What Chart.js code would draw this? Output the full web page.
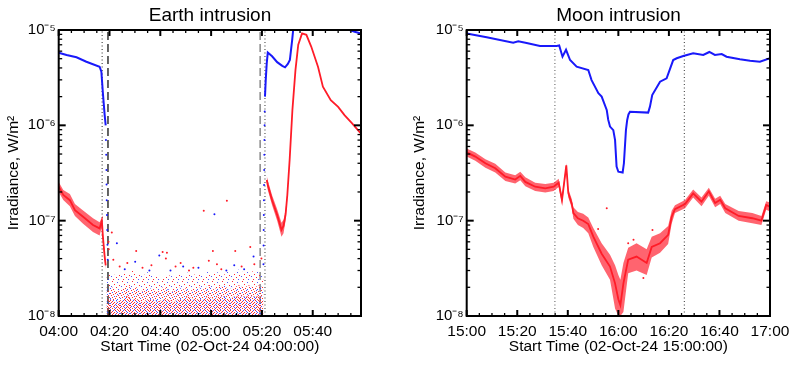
<!DOCTYPE html>
<html><head><meta charset="utf-8">
<script src="https://cdn.jsdelivr.net/npm/chart.js@4.4.1/dist/chart.umd.min.js"></script>
<style>
html,body{margin:0;padding:0;background:#fff;width:800px;height:365px;overflow:hidden;position:relative}
canvas{position:absolute;top:0}
#c1{left:0}
#c2{left:400px}
</style></head><body>
<canvas id="c1" width="420" height="365"></canvas>
<canvas id="c2" width="437" height="365"></canvas>
<script>
// ---------- axis ticks / labels ----------
const yTickVals = [1e-8, 1e-7, 1e-6, 1e-5];
const yTickLabels = ['10⁻⁸', '10⁻⁷', '10⁻⁶', '10⁻⁵'];
const earthXTicks = [0, 20, 40, 60, 80, 100];
const earthXLabels = ['04:00', '04:20', '04:40', '05:00', '05:20', '05:40'];
const moonXTicks = [0, 20, 40, 60, 80, 100, 120];
const moonXLabels = ['15:00', '15:20', '15:40', '16:00', '16:20', '16:40', '17:00'];

// ---------- Earth intrusion (minutes after 04:00, W/m^2) ----------
const earthBluePre = [[0,5.78e-6],[3.1,5.47e-6],[7,5.17e-6],[10.9,4.65e-6],[16.1,4.12e-6],[16.8,3.65e-6],[17.4,2.17e-6],[18.1,1.28e-6],[18.5,1.0e-6]];
const earthBlueDrop = [[18.6,7.0e-7],[18.7,4.9e-7],[18.8,3.4e-7],[18.85,2.4e-7],[18.9,1.64e-7],[19.0,1.15e-7],[19.1,8.0e-8],[19.2,5.6e-8],[19.3,3.9e-8]];
const earthBlueRise = [[80.6,3.5e-8],[80.65,5.5e-8],[80.7,8e-8],[80.75,1.15e-7],[80.8,1.64e-7],[80.85,2.37e-7],[80.9,3.4e-7],[80.95,4.9e-7],[81.0,7.0e-7],[81.05,1.0e-6],[81.1,1.4e-6]];
const earthBluePost = [[81.2,2.0e-6],[81.5,3.0e-6],[81.9,4.5e-6],[82.3,5.8e-6],[84,5.3e-6],[86,4.6e-6],[88,4.2e-6],[89.1,4.06e-6],[90.2,4.4e-6],[91,4.84e-6],[91.9,7.85e-6],[92.3,1.0e-5],[92.8,1.4e-5]];
const earthBlueEnd = [[113,1.2e-5],[114.4,1.0e-5],[116.5,9.6e-6],[119,9.2e-6]];

const earthRedPre = [[0,2.27e-7],[1.8,1.86e-7],[4.4,1.64e-7],[6.4,1.29e-7],[9.6,1.10e-7],[13.5,9.0e-8],[16.1,8.3e-8],[17.0,1.0e-7],[17.4,6.8e-8],[18.1,4.2e-8],[18.5,3.4e-8]];
const earthRedPreBand = [[0,2.0e-7,2.55e-7],[1.8,1.65e-7,2.1e-7],[4.4,1.42e-7,1.9e-7],[6.4,1.12e-7,1.5e-7],[9.6,9.3e-8,1.28e-7],[13.5,7.6e-8,1.06e-7],[16.1,7.0e-8,9.6e-8],[17.0,8.6e-8,1.08e-7],[17.4,6.0e-8,7.6e-8],[18.1,3.8e-8,4.6e-8],[18.5,3.1e-8,3.7e-8]];
const earthRedPost = [[81.9,2.67e-7],[82.3,2.37e-7],[84,1.64e-7],[86,1.15e-7],[87.7,8.0e-8],[88.5,8.8e-8],[89.3,1.15e-7],[90.0,1.86e-7],[90.9,4.3e-7],[92,1.45e-6],[93.2,3.8e-6],[94.3,7.0e-6],[95.8,9.2e-6],[97.5,8.9e-6],[99.4,6.7e-6],[102.1,4.1e-6],[104,2.54e-6],[107.1,1.84e-6],[110,1.56e-6],[112.5,1.28e-6],[115.5,1.05e-6],[119,8.2e-7]];
const earthRedPostBand = [[81.9,2.4e-7,2.95e-7],[82.3,2.1e-7,2.65e-7],[84,1.45e-7,1.85e-7],[86,1.0e-7,1.32e-7],[87.7,6.8e-8,9.5e-8],[88.5,7.4e-8,1.02e-7],[89.3,1.0e-7,1.3e-7],[90.0,1.7e-7,2.0e-7]];

// eclipse noise floor: [t, top of dense core, top of mid cloud, top of sparse cloud]
const earthNoiseBand = [[18.8,1.5e-8,1.9e-8,2.7e-8],[21,1.5e-8,2.0e-8,2.8e-8],[23,1.4e-8,1.8e-8,2.6e-8],[25,1.5e-8,1.9e-8,2.9e-8],[27,1.6e-8,2.1e-8,2.7e-8],[29,1.5e-8,1.9e-8,3.0e-8],[31,1.5e-8,2.0e-8,2.8e-8],[33,1.4e-8,1.8e-8,2.6e-8],[35,1.5e-8,2.0e-8,2.9e-8],[37,1.5e-8,1.9e-8,2.6e-8],[39,1.4e-8,1.8e-8,2.7e-8],[41,1.5e-8,2.0e-8,2.5e-8],[43,1.5e-8,1.9e-8,2.7e-8],[45,1.4e-8,1.8e-8,2.6e-8],[47,1.5e-8,2.0e-8,2.8e-8],[49,1.5e-8,1.9e-8,2.6e-8],[51,1.6e-8,2.0e-8,2.9e-8],[53,1.5e-8,1.8e-8,2.7e-8],[55,1.5e-8,2.0e-8,2.8e-8],[57,1.5e-8,1.9e-8,2.6e-8],[59,1.6e-8,2.1e-8,3.0e-8],[61,1.5e-8,1.9e-8,2.8e-8],[63,1.6e-8,2.0e-8,2.9e-8],[65,1.6e-8,2.1e-8,2.7e-8],[67,1.5e-8,1.9e-8,3.0e-8],[69,1.6e-8,2.0e-8,2.8e-8],[71,1.6e-8,2.1e-8,3.1e-8],[73,1.6e-8,2.0e-8,2.8e-8],[75,1.6e-8,2.1e-8,3.0e-8],[77,1.6e-8,2.0e-8,2.9e-8],[79,1.6e-8,2.1e-8,3.0e-8],[80.6,1.6e-8,2.0e-8,2.8e-8]];
const earthNoiseRed = [[19.6,6.0e-8],[19.7,5.0e-8],[20.9,7.5e-8],[21.5,3.9e-8],[24,3.3e-8],[27,3.6e-8],[30.5,4.8e-8],[33,3.2e-8],[36.5,3.4e-8],[40.9,4.7e-8],[42.2,4.0e-8],[42.6,4.6e-8],[46,3.3e-8],[48,3.6e-8],[51.3,3.0e-8],[53,3.2e-8],[57.1,1.27e-7],[59.1,3.8e-8],[60.7,4.8e-8],[62.3,3.5e-8],[64,3.1e-8],[66.2,1.62e-7],[69.5,4.8e-8],[72,3.3e-8],[75.4,5.3e-8],[77,3.5e-8],[79.8,4.0e-8]];
const earthNoiseBlue = [[22.9,5.8e-8],[26,3.1e-8],[30.1,3.7e-8],[35.7,3.0e-8],[39.6,4.3e-8],[44,3.0e-8],[49,3.3e-8],[55,3.2e-8],[61.3,1.17e-7],[66,3.0e-8],[69.1,3.4e-8],[73,3.1e-8],[76.7,4.2e-8]];

const earthDotted = [17.1, 81.2];
const earthDashed = [19.4, 79.3];

// ---------- Moon intrusion (minutes after 15:00, W/m^2) ----------
const moonBlue = [[0,9.2e-6],[7.9,8.4e-6],[18.4,7.36e-6],[20.4,7.6e-6],[23.7,7.3e-6],[29,6.8e-6],[35.6,6.8e-6],[36.6,6.9e-6],[37.9,5.25e-6],[39.3,6.2e-6],[40.9,4.84e-6],[43.5,4.12e-6],[48.1,3.8e-6],[49.4,2.98e-6],[52.1,2.17e-6],[53.4,2.0e-6],[55.4,1.45e-6],[56.0,1.14e-6],[56.7,9.7e-7],[58.0,8.9e-7],[58.7,7.0e-7],[59.3,3.7e-7],[60.0,3.26e-7],[61.7,3.2e-7],[62.2,4.0e-7],[63.0,8.9e-7],[63.5,1.14e-6],[64.0,1.3e-6],[64.6,1.39e-6],[71.8,1.36e-6],[72.5,1.57e-6],[73.4,2.08e-6],[76.5,2.87e-6],[79.1,3.11e-6],[81.7,4.84e-6],[83.1,5.05e-6],[85.7,5.33e-6],[89.6,5.7e-6],[93.6,5.47e-6],[96,5.88e-6],[98.2,5.47e-6],[100.9,5.6e-6],[102.8,5.25e-6],[108.1,4.93e-6],[112.1,4.76e-6],[116,4.65e-6],[120,5.05e-6]];
const moonRed = [[0,5.2e-7],[3.4,4.7e-7],[7.4,4.0e-7],[11.3,3.55e-7],[15.3,2.9e-7],[19.2,2.7e-7],[21.2,2.95e-7],[23.2,2.55e-7],[27.1,2.27e-7],[31.1,2.18e-7],[34.4,2.27e-7],[36.4,2.5e-7],[37.7,1.64e-7],[39.4,3.8e-7],[40.2,1.95e-7],[41.6,1.5e-7],[42.2,1.2e-7],[44,1.06e-7],[46.1,1.0e-7],[48.1,9.2e-8],[50.1,6.8e-8],[53.4,4.5e-8],[56.7,3.3e-8],[58.7,2.2e-8],[60,1.5e-8],[60.8,1.3e-8],[62,2.2e-8],[63.9,3.9e-8],[67.2,4.2e-8],[71.2,3.6e-8],[73.2,5.3e-8],[76.5,5.8e-8],[79.7,7.1e-8],[81.1,1.1e-7],[82.4,1.32e-7],[86.4,1.49e-7],[89.6,1.93e-7],[92.9,1.58e-7],[95.8,2.03e-7],[98.3,1.53e-7],[100.3,1.66e-7],[102.3,1.35e-7],[107.6,1.12e-7],[113,1.06e-7],[116.6,1.0e-7],[118.5,1.46e-7],[120,1.4e-7]];
const moonRedBand = [[0,4.7e-7,5.7e-7],[3.4,4.25e-7,5.2e-7],[7.4,3.6e-7,4.4e-7],[11.3,3.2e-7,3.95e-7],[15.3,2.6e-7,3.2e-7],[19.2,2.45e-7,3.0e-7],[21.2,2.65e-7,3.25e-7],[23.2,2.3e-7,2.85e-7],[27.1,2.05e-7,2.5e-7],[31.1,1.97e-7,2.42e-7],[34.4,2.05e-7,2.5e-7],[36.4,2.25e-7,2.75e-7],[37.7,1.5e-7,1.8e-7],[39.4,3.4e-7,4.0e-7],[40.2,1.75e-7,2.15e-7],[41.6,1.35e-7,1.68e-7],[42.2,1.05e-7,1.38e-7],[44,9.0e-8,1.23e-7],[46.1,8.4e-8,1.18e-7],[48.1,7.4e-8,1.08e-7],[50.1,5.3e-8,8.4e-8],[53.4,3.4e-8,5.8e-8],[56.7,2.4e-8,4.4e-8],[58.7,1.2e-8,3.4e-8],[60,1.0e-8,2.7e-8],[60.8,1.0e-8,2.4e-8],[62,1.1e-8,3.6e-8],[63.9,2.8e-8,5.2e-8],[67.2,3.0e-8,5.8e-8],[71.2,2.7e-8,5.0e-8],[73.2,4.1e-8,6.8e-8],[76.5,4.6e-8,7.4e-8],[79.7,5.7e-8,8.8e-8],[81.1,9.3e-8,1.27e-7],[82.4,1.2e-7,1.45e-7],[86.4,1.35e-7,1.65e-7],[89.6,1.75e-7,2.12e-7],[92.9,1.42e-7,1.75e-7],[95.8,1.83e-7,2.22e-7],[98.3,1.38e-7,1.7e-7],[100.3,1.5e-7,1.83e-7],[102.3,1.2e-7,1.5e-7],[107.6,1.0e-7,1.26e-7],[113,9.4e-8,1.2e-7],[116.6,9.0e-8,1.12e-7],[118.5,1.3e-7,1.6e-7],[120,1.25e-7,1.55e-7]];
const moonRedDots = [[55.4,1.35e-7],[63.9,5.8e-8],[69.9,2.5e-8],[73.5,8.0e-8],[52,8.2e-8],[66,6.3e-8]];
const moonDotted = [34.9, 86.1];

// ---------- styling ----------
const BLUE = 'rgb(25,25,250)';
const RED = 'rgb(255,28,40)';
const BAND = 'rgba(255,40,55,0.72)';
const FONT = 15.5;
Chart.defaults.font.family = "'Liberation Sans', Arial, Helvetica, sans-serif";
Chart.defaults.color = '#000';

// speckle textures for the eclipse noise floor (rows: list of [column, colour])
function makePattern(size, rows) {
  const c = document.createElement('canvas');
  c.width = size; c.height = size;
  const g = c.getContext('2d');
  rows.forEach((row, yy) => row.forEach(d => { g.fillStyle = d[1]; g.fillRect(d[0], yy, 1, 1); }));
  return g.createPattern(c, 'repeat');
}
const R = 'rgba(255,30,40,0.95)', B = 'rgba(50,50,255,0.85)';
const corePattern = makePattern(10, [
  [[0,R],[3,B],[5,R],[8,R]], [[2,R],[6,B],[9,R]], [[1,R],[4,R],[7,B]], [[0,B],[3,R],[6,R],[9,B]],
  [[2,R],[5,B],[8,R]], [[0,R],[4,R],[6,B],[9,R]], [[1,B],[3,R],[7,R]], [[0,R],[4,B],[6,R],[8,R]],
  [[2,R],[5,B],[9,R]], [[0,B],[4,R],[7,R]]]);
const midPattern = makePattern(10, [
  [[1,R],[6,B]], [[4,R],[8,R]], [[2,B],[6,R]], [[0,R],[5,R],[9,B]], [[3,R],[7,B]],
  [[1,R],[8,R]], [[4,B],[6,R]], [[2,R],[9,R]], [[0,B],[5,R]], [[3,R],[7,B]]]);
const topPattern = makePattern(10, [
  [], [[2,R]], [[7,B]], [], [[4,R]], [[9,R]], [[1,B]], [[6,R]], [], [[3,R],[8,B]]]);

const pts = (arr, k) => arr.map(p => ({x: p[0], y: p[k || 1]}));
function lineDS(arr, color, width, order) {
  return {data: pts(arr), borderColor: color, borderWidth: width, pointRadius: 0, tension: 0, fill: false, order};
}
function dotsDS(arr, color, r, order) {
  return {data: pts(arr), showLine: false, pointRadius: r, pointBackgroundColor: color, pointBorderWidth: 0, order};
}
function bandDS(arr, color, order) {
  return [
    {data: pts(arr, 1), borderWidth: 0, pointRadius: 0, fill: false, order},
    {data: pts(arr, 2), borderWidth: 0, pointRadius: 0, fill: '-1', backgroundColor: color, order}
  ];
}
function noiseDS(arr, pats, order) {
  return pats.map((pat, i) => ({data: pts(arr, i + 1), borderWidth: 0, borderColor: 'rgba(0,0,0,0)', pointRadius: 0,
    fill: i === 0 ? 'start' : '-1', backgroundColor: pat, order}));
}
function vline(t, color, dash, width, order) {
  return {data: [{x: t, y: 1e-8}, {x: t, y: 1e-5}], borderColor: color, borderDash: dash, borderWidth: width, pointRadius: 0, fill: false, order};
}

const idlFrame = {
  id: 'idlFrame',
  afterDraw(chart, args, opts) {
    const {ctx, chartArea: a} = chart;
    const x = chart.scales.x, y = chart.scales.y;
    ctx.save();
    ctx.strokeStyle = '#000';
    const tick = (x1, y1, x2, y2, w) => { ctx.lineWidth = w; ctx.beginPath(); ctx.moveTo(x1, y1); ctx.lineTo(x2, y2); ctx.stroke(); };
    for (let v = x.min; v <= x.max + 1e-9; v += opts.minor) {
      const px = x.getPixelForValue(v);
      const major = Math.abs(v % opts.major) < 1e-6;
      const len = major ? 6 : 3, w = major ? 2 : 1.3;
      tick(px, a.bottom, px, a.bottom - len, w);
      tick(px, a.top, px, a.top + len, w);
    }
    yTickVals.forEach((dec, i) => {
      const ms = i < yTickVals.length - 1 ? [1,2,3,4,5,6,7,8,9] : [1];
      ms.forEach(m => {
        const py = y.getPixelForValue(dec * m);
        const len = m === 1 ? 7 : 3.5, w = m === 1 ? 2 : 1.3;
        tick(a.left, py, a.left + len, py, w);
        tick(a.right, py, a.right - len, py, w);
      });
    });
    ctx.lineWidth = 2;
    ctx.strokeRect(a.left, a.top, a.right - a.left, a.bottom - a.top);
    ctx.restore();
  }
};

function makeOpts(title, xMax, xTicks, xLabels, xTitle, yTitlePad, yW, rW) {
  return {
    responsive: false, animation: false, devicePixelRatio: 1, events: [],
    layout: {padding: 0},
    plugins: {
      legend: {display: false}, tooltip: {enabled: false},
      title: {display: true, text: title, color: '#000', font: {size: 19, weight: 'normal'}, padding: {top: 4, bottom: 3.2}},
      idlFrame: {major: 20, minor: 5}
    },
    scales: {
      x: {type: 'linear', min: 0, max: xMax,
        grid: {display: false, drawTicks: false}, border: {display: false},
        afterBuildTicks: s => { s.ticks = xTicks.map(v => ({value: v})); },
        afterFit: s => { s.height = 49; },
        ticks: {autoSkip: false, maxRotation: 0, padding: 6.4, font: {size: FONT}, color: '#000',
          callback: (v, i) => xLabels[i]},
        title: {display: true, text: xTitle, font: {size: FONT}, color: '#000', padding: {top: 0, bottom: 9.2}}},
      y: {type: 'logarithmic', position: 'left', min: 1e-8, max: 1e-5,
        grid: {display: false, drawTicks: false}, border: {display: false},
        afterBuildTicks: s => { s.ticks = yTickVals.map(v => ({value: v})); },
        afterFit: s => { s.width = yW; },
        ticks: {autoSkip: false, padding: 3, font: {size: 15}, color: '#000', callback: (v, i) => yTickLabels[i]},
        title: {display: true, text: 'Irradiance, W/m²', font: {size: FONT}, color: '#000', padding: {top: yTitlePad, bottom: 0}}},
      yR: {type: 'linear', position: 'right', min: 0, max: 1,
        grid: {display: false, drawTicks: false}, border: {display: false},
        ticks: {display: false}, afterFit: s => { s.width = rW; }}
    }
  };
}

// ---------- Earth chart ----------
const earthDatasets = [
  lineDS(earthBluePre, BLUE, 2, 5),
  lineDS(earthBluePost, BLUE, 2, 5),
  lineDS(earthBlueEnd, BLUE, 2, 5),
  dotsDS(earthBlueDrop, BLUE, 1, 6),
  dotsDS(earthBlueRise, BLUE, 1, 6),
  lineDS(earthRedPre, RED, 1.8, 8),
  lineDS(earthRedPost, RED, 1.8, 8),
  ...bandDS(earthRedPreBand, BAND, 9),
  ...bandDS(earthRedPostBand, BAND, 9),
  dotsDS(earthNoiseRed, RED, 1, 7),
  dotsDS(earthNoiseBlue, BLUE, 1, 7),
  ...noiseDS(earthNoiseBand, [corePattern, midPattern, topPattern], 11),
  vline(earthDotted[0], '#222', [1, 2.5], 1, 20),
  vline(earthDotted[1], '#333', [1, 2.5], 1, 20),
  vline(earthDashed[0], '#111', [8, 4], 1.3, 20),
  vline(earthDashed[1], '#888', [8, 4], 1.5, 20)
];
new Chart(document.getElementById('c1'), {
  type: 'line',
  data: {datasets: earthDatasets},
  options: makeOpts('Earth intrusion', 119, earthXTicks, earthXLabels, 'Start Time (02-Oct-24 04:00:00)', 4.2, 58.7, 59),
  plugins: [idlFrame]
});

// ---------- Moon chart ----------
const moonDatasets = [
  lineDS(moonBlue, BLUE, 2, 5),
  lineDS(moonRed, RED, 1.8, 8),
  ...bandDS(moonRedBand, BAND, 9),
  dotsDS(moonRedDots, RED, 1, 7),
  vline(moonDotted[0], '#555', [1, 2.5], 1, 20),
  vline(moonDotted[1], '#333', [1, 2.5], 1, 20)
];
new Chart(document.getElementById('c2'), {
  type: 'line',
  data: {datasets: moonDatasets},
  options: makeOpts('Moon intrusion', 120, moonXTicks, moonXLabels, 'Start Time (02-Oct-24 15:00:00)', 10.4, 66.7, 67),
  plugins: [idlFrame]
});
</script></body></html>
